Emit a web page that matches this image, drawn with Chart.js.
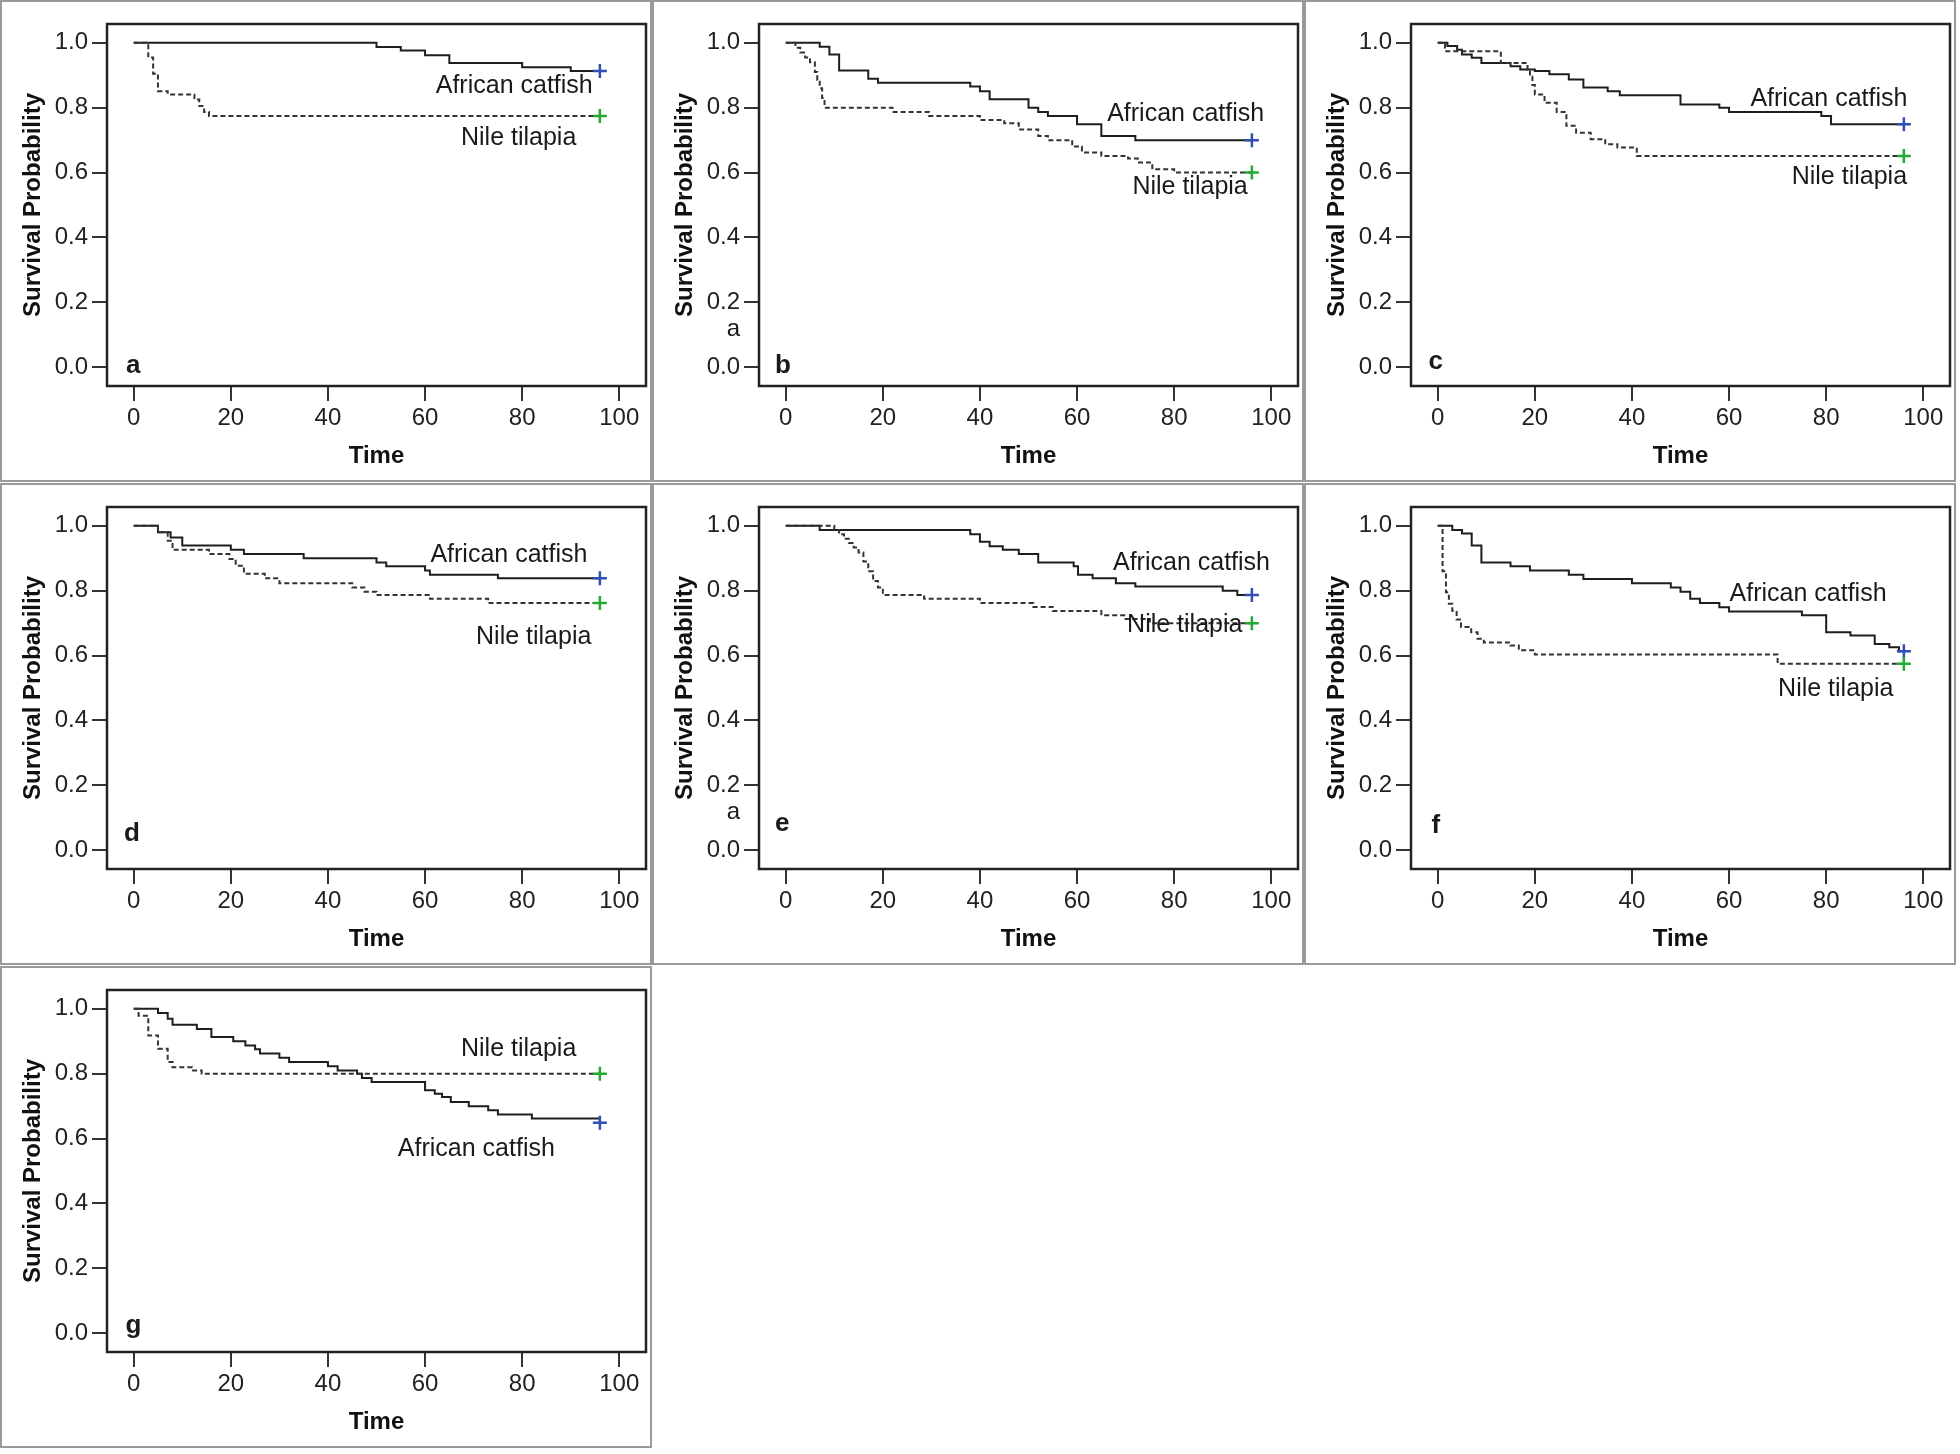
<!DOCTYPE html>
<html>
<head>
<meta charset="utf-8">
<script src="https://cdn.jsdelivr.net/npm/chart.js@4.4.0/dist/chart.umd.min.js"></script>
<style>
  body { margin:0; background:#fff; width:1960px; height:1454px; position:relative; overflow:hidden; }
  .panel { position:absolute; width:648px; height:478px; border:2px solid #9a9a9a; background:#fff; }
  .panel canvas { display:block; }
</style>
</head>
<body>
<script>
// axis ticks
const timeTicks = [0, 20, 40, 60, 80, 100];
const probTicks = [0, 0.2, 0.4, 0.6, 0.8, 1.0];
const seriesNames = ['African catfish', 'Nile tilapia'];
const panelIds = ['a', 'b', 'c', 'd', 'e', 'f', 'g'];

// panel a
const catfishTimeA = [0, 50, 55, 60, 65, 80, 90, 96];
const catfishSurvA = [1, 0.987, 0.976, 0.962, 0.938, 0.925, 0.913, 0.913];
const tilapiaTimeA = [0, 3, 4, 5, 7, 12.5, 13.5, 14.5, 15.5, 96];
const tilapiaSurvA = [1, 0.955, 0.905, 0.851, 0.841, 0.825, 0.805, 0.787, 0.774, 0.774];

// panel b
const catfishTimeB = [0, 7, 9, 11, 17, 19, 38, 40, 42, 50, 52, 54, 60, 65, 72, 96];
const catfishSurvB = [1, 0.988, 0.964, 0.915, 0.889, 0.877, 0.865, 0.851, 0.826, 0.80, 0.787, 0.774, 0.749, 0.713, 0.70, 0.70];
const tilapiaTimeB = [0, 2, 3, 4, 5, 6, 6.5, 7, 7.5, 8, 22, 29.5, 40, 45, 48, 52, 54, 59, 61, 65, 70.5, 72.5, 75.5, 80, 96];
const tilapiaSurvB = [1, 0.985, 0.97, 0.955, 0.94, 0.91, 0.885, 0.86, 0.83, 0.80, 0.787, 0.774, 0.762, 0.752, 0.733, 0.713, 0.70, 0.68, 0.662, 0.651, 0.643, 0.631, 0.61, 0.60, 0.60];

// panel c
const catfishTimeC = [0, 2, 4, 5, 7, 9, 15, 17, 20, 23, 27, 30, 35, 37.5, 50, 58, 60, 79, 81, 96];
const catfishSurvC = [1, 0.99, 0.979, 0.964, 0.954, 0.938, 0.928, 0.918, 0.913, 0.903, 0.887, 0.862, 0.851, 0.838, 0.81, 0.80, 0.787, 0.774, 0.749, 0.749];
const tilapiaTimeC = [0, 1.5, 13, 18.5, 19, 19.5, 20, 22, 24.5, 26.5, 28.5, 31.5, 34.5, 37, 41, 96];
const tilapiaSurvC = [1, 0.974, 0.938, 0.918, 0.895, 0.87, 0.841, 0.815, 0.787, 0.744, 0.723, 0.703, 0.687, 0.677, 0.651, 0.651];

// panel d
const catfishTimeD = [0, 5, 7.6, 10, 20, 22.7, 35, 50, 52, 60, 61, 75, 96];
const catfishSurvD = [1, 0.98, 0.964, 0.939, 0.926, 0.913, 0.90, 0.887, 0.875, 0.862, 0.849, 0.838, 0.838];
const tilapiaTimeD = [0, 5, 7, 8, 15.5, 19.7, 21, 22.7, 27, 30, 45, 47.5, 50, 61, 73, 96];
const tilapiaSurvD = [1, 0.98, 0.954, 0.926, 0.913, 0.898, 0.877, 0.852, 0.838, 0.823, 0.81, 0.797, 0.787, 0.775, 0.762, 0.762];

// panel e
const catfishTimeE = [0, 7, 38, 40, 42, 44.7, 48, 52, 59.3, 60.2, 63.2, 68, 72, 90, 93, 96];
const catfishSurvE = [1, 0.987, 0.974, 0.951, 0.937, 0.926, 0.913, 0.887, 0.875, 0.849, 0.838, 0.823, 0.813, 0.80, 0.787, 0.787];
const tilapiaTimeE = [0, 10, 11, 12, 13, 14, 15, 16, 17, 18, 19, 20, 28.5, 40, 51, 55, 65, 70, 75, 96];
const tilapiaSurvE = [1, 0.987, 0.974, 0.96, 0.947, 0.933, 0.918, 0.89, 0.86, 0.83, 0.81, 0.787, 0.775, 0.762, 0.75, 0.737, 0.724, 0.713, 0.70, 0.70];

// panel f
const catfishTimeF = [0, 3, 5, 7, 9, 15, 19, 27, 30, 40, 48, 50, 52, 54, 58, 60, 75, 80, 85, 90, 93, 95, 96];
const catfishSurvF = [1, 0.987, 0.976, 0.939, 0.887, 0.875, 0.862, 0.849, 0.836, 0.823, 0.81, 0.797, 0.775, 0.762, 0.749, 0.736, 0.724, 0.672, 0.662, 0.636, 0.626, 0.613, 0.613];
const tilapiaTimeF = [0, 1, 1.7, 2.3, 3, 3.9, 4.8, 6.9, 8.2, 9.5, 15, 16.7, 20, 70, 96];
const tilapiaSurvF = [1, 0.86, 0.795, 0.76, 0.738, 0.711, 0.688, 0.672, 0.652, 0.64, 0.631, 0.616, 0.603, 0.575, 0.575];

// panel g
const catfishTimeG = [0, 5, 7, 8, 13, 16, 20.5, 23, 25, 26, 30, 32, 40, 42, 46, 47, 49, 60, 62, 63.5, 65.3, 69, 73, 75, 82, 96];
const catfishSurvG = [1, 0.987, 0.969, 0.951, 0.938, 0.913, 0.90, 0.887, 0.875, 0.862, 0.849, 0.836, 0.823, 0.81, 0.80, 0.787, 0.774, 0.749, 0.738, 0.728, 0.713, 0.70, 0.687, 0.674, 0.662, 0.649];
const tilapiaTimeG = [0, 1, 3, 5, 7, 8, 12, 14, 96];
const tilapiaSurvG = [1, 0.979, 0.918, 0.877, 0.836, 0.82, 0.81, 0.80, 0.80];

const curves = [
  [catfishTimeA, catfishSurvA, tilapiaTimeA, tilapiaSurvA],
  [catfishTimeB, catfishSurvB, tilapiaTimeB, tilapiaSurvB],
  [catfishTimeC, catfishSurvC, tilapiaTimeC, tilapiaSurvC],
  [catfishTimeD, catfishSurvD, tilapiaTimeD, tilapiaSurvD],
  [catfishTimeE, catfishSurvE, tilapiaTimeE, tilapiaSurvE],
  [catfishTimeF, catfishSurvF, tilapiaTimeF, tilapiaSurvF],
  [catfishTimeG, catfishSurvG, tilapiaTimeG, tilapiaSurvG]
];

// layout: where the curve names and panel letters sit (data units: left x, baseline y)
const namePos = [
  [[62.2, 0.844], [67.4, 0.684]],
  [[66.2, 0.759], [71.4, 0.533]],
  [[64.4, 0.805], [72.9, 0.564]],
  [[61.1, 0.889], [70.5, 0.637]],
  [[67.4, 0.865], [70.3, 0.672]],
  [[60.1, 0.767], [70.1, 0.476]],
  [[54.4, 0.546], [67.4, 0.853]]
];
const letterPos = [[-1.6, -0.018], [-2.2, -0.018], [-1.9, -0.005], [-2.0, 0.028], [-2.2, 0.06], [-1.3, 0.053], [-1.7, 0.0]];
const strayMark = [false, true, false, false, true, false, false];
const colLeft = [0, 652, 1304];
const rowTop = [0, 483, 966];

const FONT = '"Liberation Sans", Arial, sans-serif';
const lineCol = '#1e1e1e';

function toPts(T, S){ return T.map((t, i) => ({x: t, y: S[i]})); }

function curveSet(label, T, S, dashed, markColor){
  const last = T.length - 1;
  return {
    label, data: toPts(T, S), stepped: true, fill: false,
    borderColor: dashed ? '#333' : lineCol, borderWidth: 2, borderDash: dashed ? [5, 3] : [],
    pointStyle: 'cross', pointRadius: ctx => ctx.dataIndex === last ? 7 : 0,
    pointHoverRadius: 0, pointBorderColor: markColor, pointBorderWidth: 2.5
  };
}

// keep the plot box where the reference has it, regardless of label overhang
function noOverhang(ax){ ax.paddingLeft = 0; ax.paddingRight = 0; ax.paddingTop = 0; ax.paddingBottom = 0; }

function makePanel(i){
  const div = document.createElement('div');
  div.className = 'panel';
  div.style.left = colLeft[i % 3] + 'px';
  div.style.top = rowTop[Math.floor(i / 3)] + 'px';
  const cv = document.createElement('canvas');
  cv.width = 648; cv.height = 478;
  div.appendChild(cv);
  document.body.appendChild(div);

  const [cT, cS, tT, tS] = curves[i];

  const annot = {
    id: 'annot' + i,
    afterDraw(chart){
      const {ctx, chartArea: a, scales: {x, y}} = chart;
      ctx.save();
      ctx.strokeStyle = '#222'; ctx.lineWidth = 2.5;
      ctx.strokeRect(a.left, a.top, a.right - a.left, a.bottom - a.top);
      ctx.fillStyle = '#1a1a1a';
      ctx.textBaseline = 'alphabetic'; ctx.textAlign = 'left';
      ctx.font = '25px ' + FONT;
      seriesNames.forEach((n, k) => {
        ctx.fillText(n, x.getPixelForValue(namePos[i][k][0]), y.getPixelForValue(namePos[i][k][1]));
      });
      ctx.font = 'bold 26px ' + FONT;
      ctx.fillText(panelIds[i], x.getPixelForValue(letterPos[i][0]), y.getPixelForValue(letterPos[i][1]));
      if (strayMark[i]) {
        ctx.font = '24px ' + FONT; ctx.textAlign = 'right';
        ctx.fillText('a', a.left - 19, y.getPixelForValue(0.097));
      }
      ctx.restore();
    }
  };

  new Chart(cv, {
    type: 'line',
    data: { datasets: [
      curveSet(seriesNames[1], tT, tS, true, '#22aa33'),
      curveSet(seriesNames[0], cT, cS, false, '#2f4fb5')
    ]},
    options: {
      responsive: false, animation: false, maintainAspectRatio: false,
      layout: { autoPadding: false, padding: { top: 22, right: 4, left: 0, bottom: 0 } },
      plugins: { legend: { display: false }, tooltip: { enabled: false } },
      scales: {
        x: {
          type: 'linear', min: -5.5, max: 105.5,
          afterBuildTicks: ax => { ax.ticks = timeTicks.map(v => ({value: v})); },
          afterFit: ax => { ax.height = 94; noOverhang(ax); },
          grid: { drawOnChartArea: false, drawTicks: true, tickLength: 15, color: '#333', lineWidth: 2 },
          border: { display: false },
          ticks: { font: { family: FONT, size: 24 }, color: '#222', padding: 3, maxRotation: 0 },
          title: { display: true, text: 'Time', color: '#111',
                   font: { family: FONT, size: 24, weight: 'bold' }, padding: { top: 0, bottom: 9.5 } }
        },
        y: {
          type: 'linear', min: -0.058, max: 1.058,
          afterBuildTicks: ax => { ax.ticks = probTicks.map(v => ({value: v})); },
          afterFit: ax => { ax.width = 105; noOverhang(ax); },
          grid: { drawOnChartArea: false, drawTicks: true, tickLength: 15, color: '#333', lineWidth: 2 },
          border: { display: false },
          ticks: { font: { family: FONT, size: 24 }, color: '#222', padding: 4, callback: v => v.toFixed(1) },
          title: { display: true, text: 'Survival Probability', color: '#111',
                   font: { family: FONT, size: 24, weight: 'bold' }, padding: { top: 17, bottom: 0 } }
        }
      }
    },
    plugins: [annot]
  });
}

panelIds.forEach((id, i) => makePanel(i));
</script>
</body>
</html>
